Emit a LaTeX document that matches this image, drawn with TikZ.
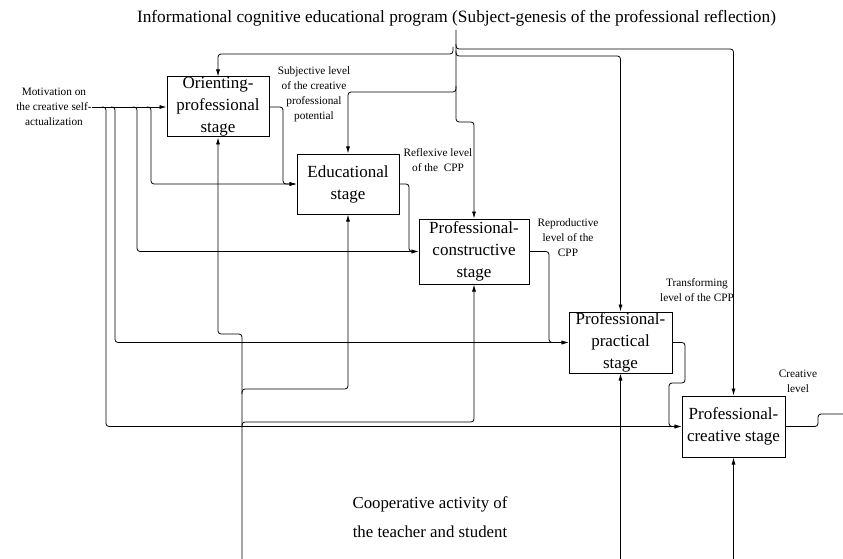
\documentclass[tikz,border=0pt]{standalone}
\usepackage{fontspec}
\setmainfont{Liberation Serif}
\usetikzlibrary{arrows.meta}
\begin{document}
\begin{tikzpicture}[x=1pt,y=-1pt,line width=0.8pt,>={Latex[length=7pt,width=4pt]},
	stagebox/.style={draw,line width=1pt,inner xsep=1pt,inner ysep=0pt,align=center,
		font=\fontsize{17}{22}\selectfont},
	lvl/.style={align=center,inner sep=0pt,font=\fontsize{11.3}{15}\selectfont},
	big/.style={align=center,inner sep=0pt,font=\fontsize{16.8}{29}\selectfont},
	flow/.style={->,rounded corners=3pt}]
	\useasboundingbox (0,0) rectangle (843,559);
	% Các giai đoạn
	\node[stagebox,minimum width=102,minimum height=60] (orient) at (218,107) {Orienting-\\professional\\stage};
	\node[stagebox,minimum width=102,minimum height=60] (educ) at (348,184) {Educational\\stage};
	\node[stagebox,minimum width=110,minimum height=65] (constr) at (474,251.5) {Professional-\\constructive\\stage};
	\node[stagebox,minimum width=103,minimum height=61] (pract) at (620.5,342.5) {Professional-\\practical\\stage};
	\node[stagebox,minimum width=103,minimum height=61] (creat) at (733.5,426.5) {Professional-\\creative stage};
	% Chữ
	\node[big,font=\fontsize{17.3}{20}\selectfont] (prog) at (456.5,18) {Informational cognitive educational program (Subject-genesis of the professional reflection)};
	\node[big] (coop) at (430,517) {Cooperative activity of\\the teacher and student};
	\node[lvl,anchor=east] (motiv) at (92,107) {Motivation on\\the creative self-\\actualization};
	\node[lvl] (lsubj) at (314,94) {Subjective level\\of the creative\\professional\\potential};
	\node[lvl] (lrefl) at (438,160) {Reflexive level\\of the \ CPP};
	\node[lvl] (lrepr) at (568,238) {Reproductive\\level of the\\CPP};
	\node[lvl] (ltrans) at (697,290) {Transforming\\level of the CPP};
	\node[lvl] (lcreat) at (798,381) {Creative\\level};
	% Đầu vào bên trái
	\draw[->] (motiv.east) -- (orient.west);
	\draw[flow] (147,107) -- (151,107) -- (151,184) -- (educ.west);
	\draw[flow] (133,107) -- (137,107) -- (137,251.5) -- (constr.west);
	\draw[flow] (111,107) -- (115,107) -- (115,342.5) -- (pract.west);
	\draw[flow] (102,107) -- (106,107) -- (106,426.5) -- (creat.west);
	% Nối các giai đoạn
	\draw[flow] (orient.east) -- (283,107) -- (283,184) -- (educ.west);
	\draw[flow] (educ.east) -- (409,184) -- (409,251.5) -- (constr.west);
	\draw[flow] (constr.east) -- (549,251.5) -- (549,342.5) -- (pract.west);
	\draw[flow] (pract.east) -- (685,342.5) -- (685,383) -- (669,383) -- (669,426.5) -- (creat.west);
	\coordinate (out) at (843,414);
	\draw[rounded corners=3pt] (creat.east) -- (818,426.5) -- (818,414) -- (out);
	% Phía trên
	\coordinate (top) at (456,30);
	\draw[flow] (top) -- (456,122) -- (474,122) -- (constr.north);
	\draw[flow] (453,47) -- (453,54) -- (218,54) -- (orient.north);
	\draw[flow] (456,86) -- (456,92) -- (348,92) -- (educ.north);
	\draw[flow] (456,44) -- (456,49) -- (733.5,49) -- (creat.north);
	\draw[flow] (456,51) -- (456,56) -- (620.5,56) -- (pract.north);
	% Phía dưới
	\coordinate (c1) at (242,559);
	\coordinate (c2) at (620.5,559);
	\coordinate (c3) at (733.5,559);
	\draw[flow] (c1) -- (242,334) -- (218,334) -- (orient.south);
	\draw[flow] (242,394) -- (242,389) -- (348,389) -- (educ.south);
	\draw[flow] (242,427) -- (242,422) -- (474,422) -- (constr.south);
	\draw[->] (c2) -- (pract.south);
	\draw[->] (c3) -- (creat.south);
\end{tikzpicture}
\end{document}
